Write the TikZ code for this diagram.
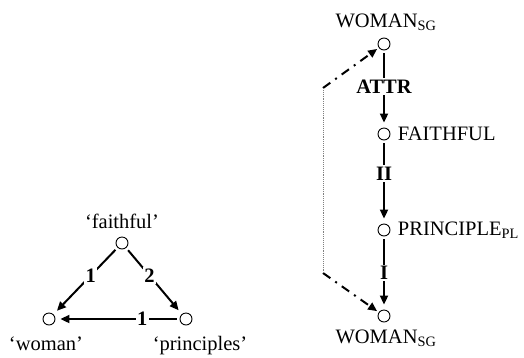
\documentclass[tikz,border=0pt]{standalone}
\usepackage{fontspec}
\setmainfont{Liberation Serif}
\usetikzlibrary{positioning, arrows.meta}

\begin{document}
\begin{tikzpicture}[x=1pt, y=-1pt, font=\fontsize{20.5}{24}\selectfont,
    pt/.style={circle, draw, inner sep=0pt, minimum size=12pt, line width=0.9pt},
    rel/.style={-{Triangle[length=9pt,width=8pt]}, line width=2pt,
                shorten <=3pt, shorten >=5pt},
    lab/.style={fill=white, font=\fontsize{20.5}{24}\selectfont\bfseries, inner sep=1.5pt},
    coref/.style={-{Triangle[length=9pt,width=8pt]}, line width=2pt, shorten >=2pt,
                  dash pattern=on 9pt off 6pt on 2pt off 6pt}]
  \useasboundingbox (0,0) rectangle (524,357);

  % left: the three words
  \node[pt] (faithful) at (122,243) {};
  \node[pt] (woman) at (49,319) {};
  \node[pt] (principles) at (186,319) {};
  \node[anchor=base] (faithfullab) at (122,228) {‘faithful’};
  \node[anchor=base] (womanlab) at (46,350) {‘woman’};
  \node[anchor=base] (principleslab) at (200,350) {‘principles’};

  \draw[rel] (faithful) -- node[lab, pos=0.42] {1} (woman);
  \draw[rel] (faithful) -- node[lab, pos=0.42] {2} (principles);
  \draw[rel] (principles) -- node[lab, pos=0.3] {1} (woman);

  % right: the chain
  \node[pt] (wtop) at (384,44) {};
  \node[pt] (faith) at (384,134) {};
  \node[pt] (princ) at (384,230) {};
  \node[pt] (wbot) at (384,316) {};
  \node[anchor=base] (wtoplab) at (386,27) {WOMAN\textsubscript{SG}};
  \node[right=4pt of faith] (faithlab) {FAITHFUL};
  \node[right=4pt of princ] (princlab) {PRINCIPLE\textsubscript{PL}};
  \node[anchor=base] (wbotlab) at (386,343) {WOMAN\textsubscript{SG}};

  \draw[rel] (wtop) -- node[lab, pos=0.47] {ATTR} (faith);
  \draw[rel] (faith) -- node[lab, pos=0.4] {II} (princ);
  \draw[rel] (princ) -- node[lab, pos=0.5] {I} (wbot);

  \coordinate (corefa) at (323,88);
  \coordinate (corefb) at (323,273);
  \draw[coref] (corefa) -- (wtop);
  \draw[coref] (corefb) -- (wbot);
  \draw[densely dotted, gray, line width=0.9pt] (corefa) -- (corefb);
\end{tikzpicture}
\end{document}
